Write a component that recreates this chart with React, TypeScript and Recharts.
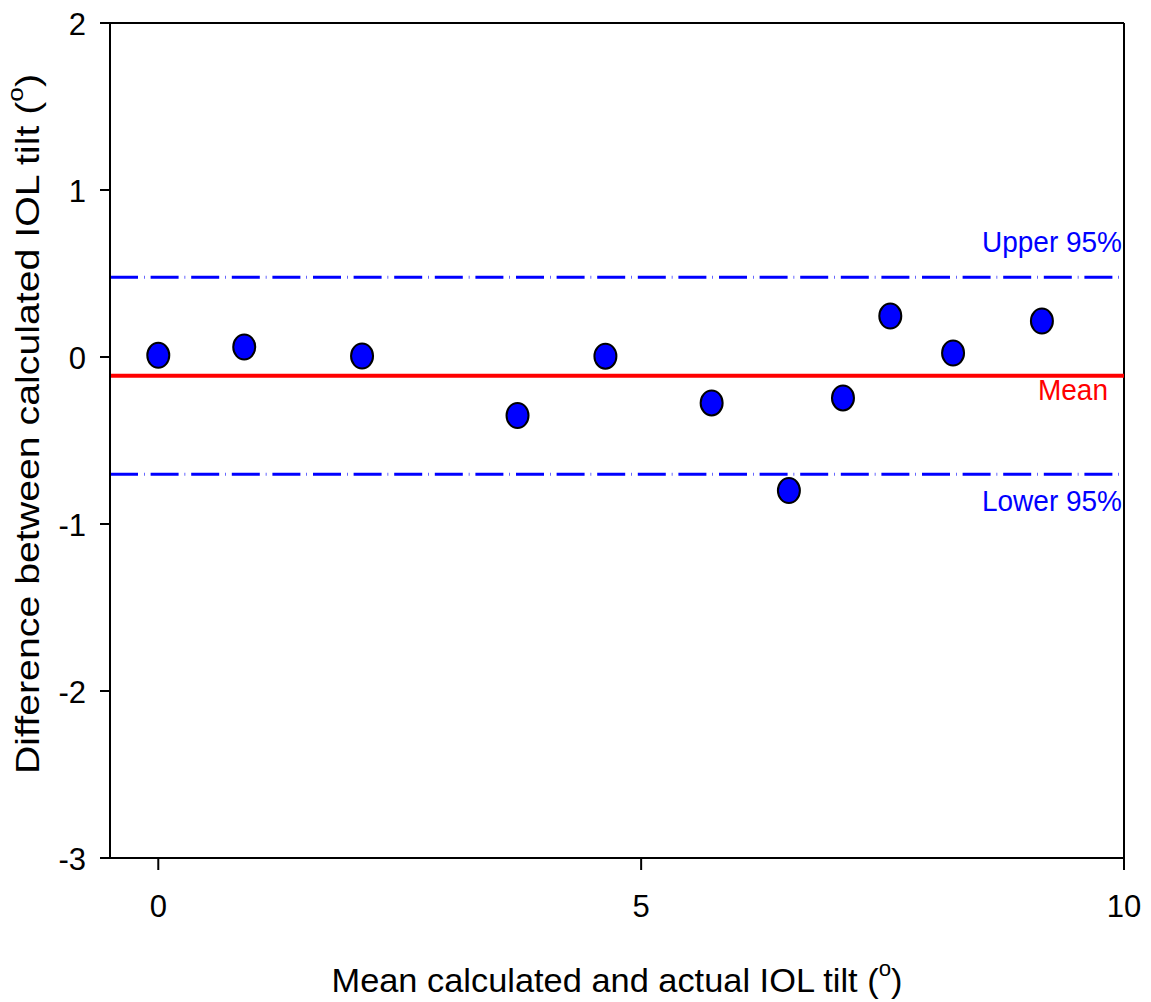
import {
  ReferenceLine,
  Scatter,
  ScatterChart,
  XAxis,
  YAxis,
} from 'recharts';

const meanTilt = [0.0, 0.89, 2.11, 3.72, 4.63, 5.73, 6.53, 7.09, 7.58, 8.23, 9.15];
const tiltDiff = [0.01, 0.06, 0.006, -0.35, 0.005, -0.275, -0.8, -0.245, 0.245, 0.024, 0.215];
const xTicks = [0, 5, 10];
const yTicks = [-3, -2, -1, 0, 1, 2];
const MEAN_DIFF = -0.112;
const UPPER_95 = 0.477;
const LOWER_95 = -0.702;

const FONT = '"Liberation Sans", Arial, sans-serif';

const points = meanTilt.map((x, i) => ({ x, y: tiltDiff[i] }));

function Dot(props: any) {
  const { cx, cy } = props;
  return (
    <ellipse cx={cx} cy={cy} rx={11} ry={12.5} fill="#0000ff" stroke="#000" strokeWidth={2} />
  );
}

function Tick(props: any) {
  const { x, y, payload, textAnchor, vertical } = props;
  return (
    <text
      x={x}
      y={y}
      dy={vertical ? 12 : 29}
      textAnchor={textAnchor}
      fill="#000"
      fontSize={31}
      fontFamily={FONT}
    >
      {String(payload.value)}
    </text>
  );
}

function lineLabel(text: string, color: string, dy: number, inset: number, len?: number) {
  return ({ viewBox }: any) => (
    <text
      x={viewBox.x + viewBox.width - inset}
      y={viewBox.y + dy}
      textAnchor="end"
      fill={color}
      fontSize={29}
      fontFamily={FONT}
      textLength={len}
      lengthAdjust={len ? 'spacingAndGlyphs' : undefined}
    >
      {text}
    </text>
  );
}

export default function App() {
  return (
    <div style={{ position: 'absolute', left: 0, top: 0, background: '#fff' }}>
      <ScatterChart
        width={1151}
        height={1002}
        margin={{ top: 23, right: 27, bottom: 0, left: 0 }}
      >
        <XAxis
          type="number"
          dataKey="x"
          domain={[-0.5, 10]}
          ticks={xTicks}
          allowDataOverflow
          height={144}
          stroke="#000"
          strokeWidth={2}
          tickSize={12}
          tickMargin={18}
          tick={<Tick />}
          label={{
            content: () => (
              <text
                x={617}
                y={992}
                textAnchor="middle"
                fontSize={34}
                fontFamily={FONT}
                fill="#000"
                textLength={571}
                lengthAdjust="spacingAndGlyphs"
              >
                Mean calculated and actual IOL tilt (
                <tspan fontSize={22} dy={-16}>o</tspan>
                <tspan dy={16}>)</tspan>
              </text>
            ),
          }}
        />
        <YAxis
          type="number"
          dataKey="y"
          domain={[-3, 2]}
          ticks={yTicks}
          allowDataOverflow
          width={110}
          stroke="#000"
          strokeWidth={2}
          tickSize={10}
          tickMargin={14}
          tick={<Tick vertical />}
          label={{
            content: () => (
              <text
                x={39}
                y={424}
                textAnchor="middle"
                fontSize={33}
                fontFamily={FONT}
                fill="#000"
                transform="rotate(-90 39 424)"
                textLength={700}
                lengthAdjust="spacingAndGlyphs"
              >
                Difference between calculated IOL tilt (
                <tspan fontSize={22} dy={-16}>o</tspan>
                <tspan dy={16}>)</tspan>
              </text>
            ),
          }}
        />
        <ReferenceLine y={2} stroke="#000" strokeWidth={2} />
        <ReferenceLine x={10} stroke="#000" strokeWidth={2} />
        <ReferenceLine
          y={UPPER_95}
          stroke="#0000ff"
          strokeWidth={3}
          strokeDasharray="28 6 0.6 6"
          label={{ content: lineLabel('Upper 95%', '#0000ff', -25, 2, 140) }}
        />
        <ReferenceLine
          y={LOWER_95}
          stroke="#0000ff"
          strokeWidth={3}
          strokeDasharray="28 6 0.6 6"
          label={{ content: lineLabel('Lower 95%', '#0000ff', 37, 2, 140) }}
        />
        <ReferenceLine
          y={MEAN_DIFF}
          stroke="#ff0000"
          strokeWidth={4}
          label={{ content: lineLabel('Mean', '#ff0000', 24, 16, 70) }}
        />
        <Scatter data={points} shape={<Dot />} isAnimationActive={false} />
      </ScatterChart>
    </div>
  );
}
